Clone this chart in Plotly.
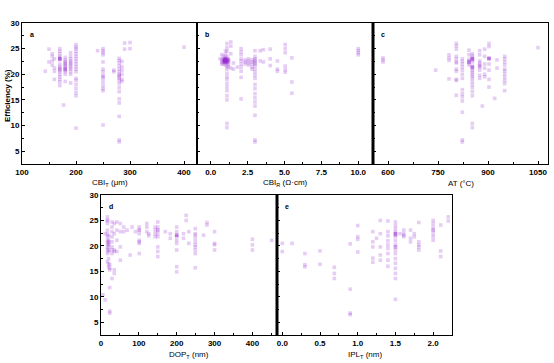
import plotly.graph_objects as go

# ---------------- data ----------------
# panel a: CBI_T (um) columns and efficiencies (%)
a_x = [143, 150, 156, 160, 170, 177, 180, 190, 200, 240, 250, 270, 280, 285, 290, 300, 400]
a_y = [
    [20.6], [24.9, 22.4], [23.5, 22.6, 21.8, 24.0], [23.0, 21.2, 20.6, 19.0],
    [25.0, 24.5, 24.0, 23.5, 23.2, 23.0, 23.0, 23.0, 22.8, 22.0, 21.5, 21.2, 21.0, 20.8, 20.5, 20.0, 19.5, 19.0, 18.5, 17.8],
    [14.0],
    [23.3, 22.8, 22.5, 22.2, 22.0, 21.8, 21.5, 21.2, 21.0, 21.0, 20.8, 20.5, 20.0, 18.6],
    [24.2, 23.5, 23.0, 22.6, 22.3, 22.0, 21.7, 21.3, 21.0, 20.5, 20.0, 18.3],
    [25.8, 25.3, 25.0, 24.5, 24.0, 23.5, 23.0, 22.5, 22.0, 21.5, 21.0, 20.5, 19.2, 18.8, 18.0, 17.2, 16.4, 15.8, 9.5],
    [24.6],
    [25.0, 24.6, 24.2, 23.8, 22.4, 21.0, 20.5, 19.8, 19.5, 19.2, 18.5, 17.8, 17.2, 16.8, 10.1],
    [20.8, 20.5],
    [23.1, 22.7, 22.2, 21.6, 21.0, 20.5, 20.0, 19.8, 19.5, 19.2, 18.8, 18.2, 17.4, 16.6, 15.2, 14.4, 11.8, 7.2, 6.8],
    [22.5, 21.5, 20.8, 20.0, 19.0, 18.6],
    [26.1, 24.9], [26.2, 25.0], [25.3],
]

# panel b: CBI_R (Ohm cm)
b_x = [0.63, 0.75, 0.86, 0.95, 1.0, 1.1, 1.2, 1.36, 1.54, 1.81, 2.06, 2.33, 2.56, 2.8, 3.0, 3.35, 3.57, 4.03, 4.52, 5.05, 5.5, 10.0]
b_y = [
    [23.0], [23.8, 22.8, 22.3, 22.0], [23.5, 23.0, 22.8, 22.6, 22.4, 22.0],
    [23.0, 22.8, 22.6, 22.5, 22.4, 22.8],
    [24.5, 23.8, 23.2, 23.0, 22.9, 22.8, 22.7, 22.6, 22.5, 22.4, 22.2, 21.8, 22.8, 22.6],
    [26.0, 25.2, 24.5, 23.5, 23.0, 22.8, 22.6, 22.4, 22.2, 21.5, 21.0, 20.2, 19.5, 19.0, 18.2, 17.5, 16.8, 15.8, 15.0, 10.4, 9.6, 22.7, 22.5],
    [23.0, 22.7, 22.4, 22.0, 21.5, 22.8],
    [26.3, 25.5, 24.0, 21.2],
    [21.0, 22.2], [21.4],
    [25.0, 24.4, 23.8, 23.0, 22.6, 22.0, 21.4, 20.6, 19.4, 15.2],
    [22.8, 22.4, 22.0], [23.0, 22.6, 22.2, 21.8], [22.8, 22.4, 22.0, 21.4, 21.0],
    [24.6, 23.5, 23.0, 22.8, 22.5, 22.2, 22.0, 21.6, 21.0, 20.4, 19.8, 19.2, 18.0, 17.2, 16.2, 15.4, 14.6, 13.8, 12.0, 7.2, 6.8],
    [24.6, 22.6], [22.4, 24.8], [24.9, 23.0, 21.7], [22.6, 21.0, 20.6],
    [25.8, 25.0, 24.2, 21.6, 20.9, 20.4], [23.2, 18.5, 16.3],
    [25.0, 24.6, 24.2, 23.8],
]

# panel c: AT (degC)
c_x = [585, 743, 783, 805, 823, 843, 853, 875, 883, 890, 903, 920, 927, 950, 1050]
c_y = [
    [23.2, 22.8, 22.4], [20.8], [23.8, 23.2, 22.7, 19.1],
    [26.0, 25.5, 24.9, 23.5, 23.0, 22.4, 22.2, 21.0, 20.6, 19.0, 18.8, 15.9],
    [23.0, 22.5, 22.0, 21.4, 20.8, 20.0, 19.2, 17.0, 16.2, 15.6, 14.8, 12.6, 7.2, 6.8],
    [24.7, 23.8, 22.9, 22.6, 22.4, 22.3, 22.3, 21.8],
    [24.0, 23.6, 23.2, 23.0, 23.0, 23.0, 22.8, 22.4, 21.6, 21.4, 21.4, 21.2, 20.8, 20.4, 20.0, 19.6, 19.2, 18.6, 18.0, 17.4, 16.6, 15.8, 10.4, 9.6],
    [24.6, 23.8, 22.6, 22.2, 21.8, 21.6, 21.4, 20.8, 19.8, 19.2],
    [13.8],
    [24.9, 23.5, 22.0, 21.2, 20.0, 19.5],
    [26.0, 25.4, 23.1, 23.1, 23.1, 23.0, 22.0, 20.8, 19.0, 17.5],
    [15.3], [22.8, 21.2],
    [23.5, 23.0, 22.4, 21.8, 21.0, 20.6, 20.0, 19.4, 18.8, 18.2, 16.8],
    [25.2],
]

# panel d: DOP_T (nm)
d_x = [5, 11, 17, 20, 23, 29, 35, 42, 51, 60, 69, 77, 82, 91, 101, 121, 126, 143, 150, 170, 183,
       200, 218, 225, 232, 249, 271, 280, 300, 400, 451]
d_y = [
    [10.4], [22.4, 9.4],
    [25.7, 25.0, 25.0, 24.4, 23.1, 22.4, 21.8, 21.1, 20.5, 19.8, 19.2, 18.5, 16.9],
    [22.0, 21.1, 20.8, 20.5, 20.2, 19.8, 19.2, 18.9, 17.5, 16.5, 15.9],
    [16.3, 15.6, 15.3, 11.8, 6.8, 7.2],
    [24.7, 23.7, 22.8, 21.8, 20.8, 19.8, 19.2, 18.5, 13.6],
    [24.4, 22.4, 19.2, 18.9, 15.3, 14.6],
    [24.7, 23.1, 21.1, 18.9], [24.4, 22.8, 19.8, 17.2], [23.7, 22.8], [23.1], [18.2], [23.7], [22.8],
    [23.7, 23.1, 23.1, 22.4, 21.1, 20.8, 20.5, 18.5],
    [24.4, 23.7, 22.8], [22.4, 22.0], [23.7, 23.1, 22.4, 21.8],
    [24.7, 23.7, 23.1, 23.1, 22.4, 21.8, 19.8, 18.9, 17.9],
    [22.8], [22.4, 21.5],
    [23.7, 22.8, 22.1, 22.1, 22.1, 21.8, 21.1, 20.5, 19.2, 15.9, 14.9],
    [22.4, 21.5], [26.0, 25.0], [22.8, 20.5],
    [23.4, 22.4, 22.1, 21.5, 20.8, 20.2, 19.8, 19.2, 18.5, 15.7],
    [22.1], [24.6, 24.1], [22.8, 20.5, 20.2, 19.2], [21.3, 20.2, 19.2], [21.1],
]

# panel e: IPL_T (nm)
e_x = [0.0, 0.13, 0.30, 0.50, 0.69, 0.90, 1.0, 1.2, 1.25, 1.3, 1.4, 1.5, 1.56, 1.61, 1.7, 1.75, 1.81, 2.0, 2.1, 2.2]
e_y = [
    [20.5, 18.9], [20.5], [18.5, 16.3, 15.9], [19.0, 16.4], [15.8, 14.6, 13.6],
    [20.4, 11.5, 6.8, 6.5], [24.0, 21.8, 21.3, 18.8], [22.8, 20.8, 19.8, 17.6, 16.8], [21.5],
    [25.0, 22.4, 19.8, 18.2, 17.2],
    [24.9, 22.8, 22.0, 21.0, 20.2, 19.5, 18.5, 17.2, 16.0],
    [24.7, 24.0, 23.4, 22.8, 22.4, 22.4, 22.4, 22.1, 21.8, 21.0, 20.2, 19.8, 19.8, 19.2, 18.5, 17.5, 16.6, 15.6, 14.6, 13.6, 9.5],
    [22.4], [23.1, 22.4, 22.1, 21.8], [23.1, 21.5, 20.8], [22.4, 21.8],
    [24.6, 20.8, 20.2, 19.8, 19.2],
    [25.0, 24.4, 23.7, 23.1, 23.1, 22.4, 21.8, 21.1],
    [24.1, 19.0, 17.9], [25.7, 24.9],
]

y_ticks = [5, 10, 15, 20, 25, 30]
a_ticks = [100, 200, 300, 400]
b_ticks = [0.0, 2.5, 5.0, 7.5, 10.0]
c_ticks = [600, 750, 900, 1050]
d_ticks = [0, 100, 200, 300, 400, 500]
e_ticks = [0.0, 0.5, 1.0, 1.5, 2.0]
panel_labels = ["a", "b", "c", "d", "e"]
x_titles = ["CBI<sub>T</sub> (μm)", "CBI<sub>R</sub> (Ω·cm)", "AT (°C)",
            "DOP<sub>T</sub> (nm)", "IPL<sub>T</sub> (nm)"]
y_title = "Efficiency (%)"

# ---------------- figure ----------------
W, H = 554, 363
MARKER = dict(symbol="square", size=3.6, color="rgba(150,45,210,0.24)", line=dict(width=0))


def flat(xs, ys):
    fx, fy = [], []
    for x, col in zip(xs, ys):
        for y in col:
            fx.append(x)
            fy.append(y)
    return fx, fy


def px_x(p):
    return p / W


def px_y(p):
    return 1 - p / H


fig = go.Figure()
panels = [
    (a_x, a_y, "x", "y"),
    (b_x, b_y, "x2", "y2"),
    (c_x, c_y, "x3", "y3"),
    (d_x, d_y, "x4", "y4"),
    (e_x, e_y, "x5", "y5"),
]
for xs, ys, xa, ya in panels:
    fx, fy = flat(xs, ys)
    fig.add_trace(go.Scatter(x=fx, y=fy, mode="markers", marker=MARKER,
                             xaxis=xa, yaxis=ya, showlegend=False, hoverinfo="skip"))

tickfont = dict(family="Liberation Sans", size=8, color="black", weight="bold")
titlefont = dict(family="Liberation Sans", size=8, color="black")

row1 = [px_y(164), px_y(23)]
row2 = [px_y(335), px_y(195)]
xdoms = [
    [px_x(22), px_x(197)],
    [px_x(197), px_x(373)],
    [px_x(373), px_x(548)],
    [px_x(101), px_x(277)],
    [px_x(277), px_x(452)],
]
ydoms = [row1, row1, row1, row2, row2]
title_y = [183, 183, 183, 355, 355]
xranges = [[100, 424], [-0.93, 11.0], [555, 1080], [0, 465], [-0.07, 2.25]]
xtickvals = [a_ticks, b_ticks, c_ticks, d_ticks, e_ticks]
xdticks_minor = [50, 1.25, 75, 50, 0.25]

common = dict(showline=True, mirror=True, linecolor="black", linewidth=1,
              ticks="inside", ticklen=3, tickcolor="black", tickwidth=1,
              showgrid=False, zeroline=False, automargin=False, tickfont=tickfont)

for i in range(5):
    sfx = "" if i == 0 else str(i + 1)
    xa = dict(common, domain=xdoms[i], range=xranges[i], anchor="y" + sfx,
              tickvals=xtickvals[i],
              minor=dict(ticks="inside", ticklen=2, tickcolor="black", dtick=xdticks_minor[i], showgrid=False))
    if i in (1, 4):
        xa["tickformat"] = ".1f"
    ya = dict(common, domain=ydoms[i], range=[2.5, 30], anchor="x" + sfx,
              tickvals=y_ticks,
              minor=dict(ticks="inside", ticklen=2, tickcolor="black", dtick=2.5, tick0=0, showgrid=False),
              showticklabels=(i in (0, 3)))
    fig.layout["xaxis" + sfx] = xa
    fig.layout["yaxis" + sfx] = ya
    fig.add_annotation(text="<b>%s</b>" % panel_labels[i], xref="x%s domain" % sfx, yref="y%s domain" % sfx,
                       x=0.055, y=0.915, showarrow=False, xanchor="center", yanchor="middle",
                       font=dict(family="Liberation Sans", size=7, color="black"))
    fig.add_annotation(text=x_titles[i], xref="x%s domain" % sfx, yref="paper",
                       x=0.5, y=px_y(title_y[i]), showarrow=False, xanchor="center", yanchor="middle",
                       font=titlefont)

# thick separator lines between adjoining panels
for sfx in ("3", "5"):
    fig.add_shape(type="line", xref="x%s domain" % sfx, yref="y%s domain" % sfx,
                  x0=0, x1=0, y0=0, y1=1, line=dict(color="black", width=3))

fig.add_annotation(text=y_title, xref="paper", yref="paper", x=px_x(7), y=px_y(96),
                   textangle=-90, showarrow=False, xanchor="center", yanchor="middle",
                   font=dict(family="Liberation Sans", size=8, color="black", weight="bold"))

fig.update_layout(width=W, height=H, margin=dict(l=0, r=0, t=0, b=0),
                  paper_bgcolor="white", plot_bgcolor="white")

fig.write_html("out.html", config={"displayModeBar": False},
               post_script="document.body.style.margin='0';document.body.style.overflow='hidden';")
